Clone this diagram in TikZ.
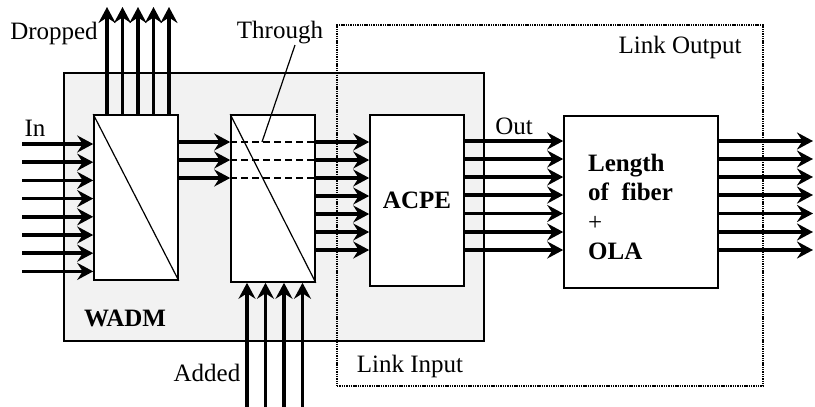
\documentclass[tikz,border=0pt]{standalone}
\usepackage{fontspec}
\setmainfont{Liberation Serif}
\usetikzlibrary{arrows.meta}

\begin{document}
\begin{tikzpicture}[x=1pt, y=-1pt,
  >={Stealth[length=16pt,width=17pt,inset=5.5pt]},
  font=\fontsize{25}{29.5}\selectfont,
  box/.style={draw, line width=1.6pt, fill=white, inner sep=0pt},
  sig/.style={->, line width=3.6pt},
  thr/.style={line width=2.4pt, dash pattern=on 7pt off 4pt},
  lbl/.style={inner sep=0pt}]
  \useasboundingbox (0,0) rectangle (815,407);
  \node[draw, line width=1.6pt, fill=black!5, minimum width=420pt, minimum height=268pt] (wadm) at (274,207) {};
  \node[draw, line width=2.6pt, dash pattern=on 1.4pt off 0.9pt, minimum width=426pt, minimum height=361pt] (link) at (550,205.5) {};
  \node[box, minimum width=84pt, minimum height=165pt] (demux) at (136,197.5) {};
  \node[box, minimum width=84pt, minimum height=167pt] (thru) at (273,198.5) {};
  \node[box, minimum width=94pt, minimum height=171pt, font=\fontsize{25}{29.5}\selectfont\bfseries] (acpe) at (417,200.5) {ACPE};
  \node[box, minimum width=154pt, minimum height=172pt] (fiber) at (641,202) {};
  \node[lbl, align=left, anchor=west, font=\fontsize{25}{29.5}\selectfont\bfseries] (fibertxt) at (588,207) {Length\\of~ fiber\\{\mdseries +}\\OLA};
  \draw[line width=1.2pt] (demux.north west) -- (demux.south east);
  \draw[line width=1.2pt] (thru.north west) -- (thru.south east);

  \node[lbl] (dropped) at (54,33) {Dropped};
  \node[lbl] (through) at (280,33) {Through};
  \node[lbl] (in) at (35,128) {In};
  \node[lbl, font=\fontsize{25}{29.5}\selectfont\bfseries] (wadmlbl) at (125,318) {WADM};
  \node[lbl] (added) at (207,373) {Added};
  \node[lbl] (linkin) at (410,366) {Link Input};
  \node[lbl] (linkout) at (680,47) {Link Output};
  \node[lbl] (out) at (514,126) {Out};

  \foreach \y [count=\i] in {144,162.2,180.4,198.6,216.8,235,253.2,271.4} {
    \coordinate (in\i) at (22,\y);
    \draw[sig] (in\i) -- (in\i -| demux.west);
  }
  \foreach \x [count=\i] in {107,122.5,138,153.5,169} {
    \coordinate (drop\i) at (\x,7);
    \draw[sig] (drop\i |- demux.north) -- (drop\i);
  }
  \foreach \x [count=\i] in {247,265.5,284,302.5} {
    \coordinate (add\i) at (\x,407);
    \draw[sig] (add\i) -- (add\i |- thru.south);
  }
  \foreach \y [count=\i] in {142,160,178} {
    \coordinate (th\i) at (0,\y);
    \draw[sig] (th\i -| demux.east) -- (th\i -| thru.west);
    \draw[thr] (th\i -| thru.west) -- (th\i -| thru.east);
  }
  \foreach \y [count=\i] in {142,160,178,196,214,232,250} {
    \coordinate (ac\i) at (0,\y);
    \draw[sig] (ac\i -| thru.east) -- (ac\i -| acpe.west);
  }
  \foreach \y [count=\i] in {141,159,177,195,213.5,232,250} {
    \coordinate (ol\i) at (0,\y);
    \coordinate (end\i) at (813,\y);
    \draw[sig] (ol\i -| acpe.east) -- (ol\i -| fiber.west);
    \draw[sig] (ol\i -| fiber.east) -- (end\i);
  }
  \coordinate (tp) at (295,45);
  \draw[line width=1.2pt] (tp) -- (262,142);
\end{tikzpicture}
\end{document}
